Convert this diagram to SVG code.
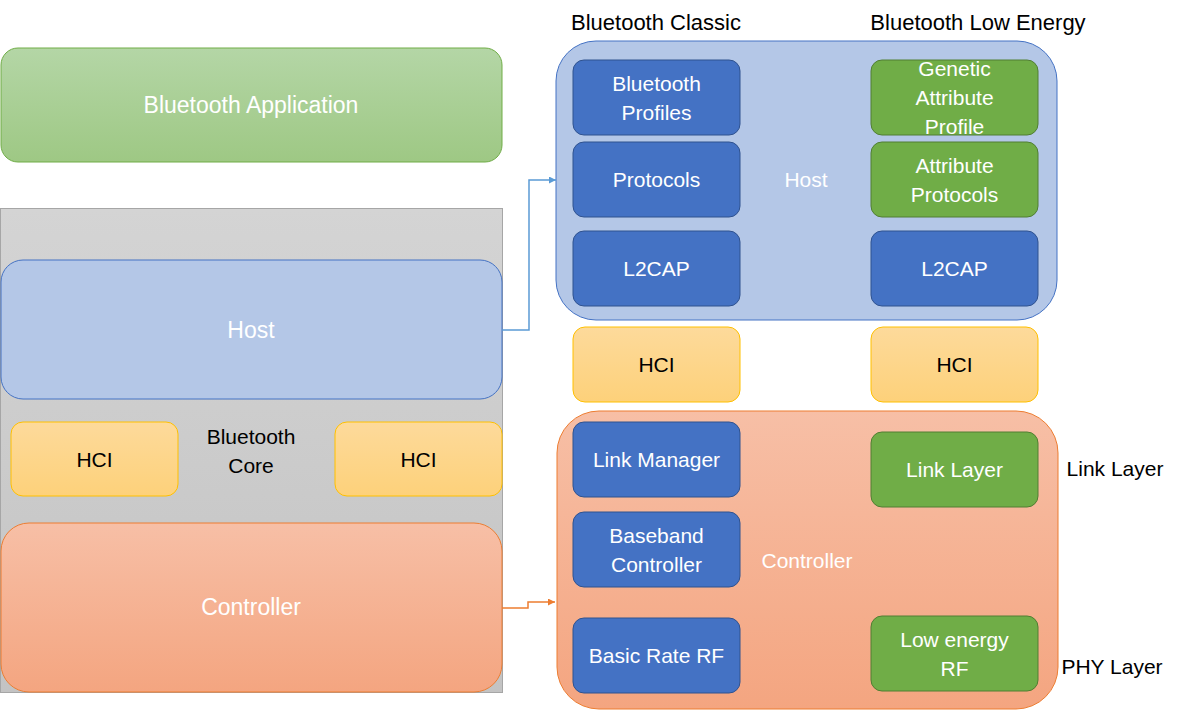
<svg xmlns="http://www.w3.org/2000/svg" width="1179" height="710" viewBox="0 0 1179 710">
<defs>
<linearGradient id="gGreen" x1="0" y1="0" x2="0" y2="1"><stop offset="0" stop-color="#b4d6a6"/><stop offset="1" stop-color="#9ec884"/></linearGradient>
<linearGradient id="gGray" x1="0" y1="0" x2="0" y2="1"><stop offset="0" stop-color="#d4d4d4"/><stop offset="1" stop-color="#c3c3c3"/></linearGradient>
<linearGradient id="gHci" x1="0" y1="0" x2="0" y2="1"><stop offset="0" stop-color="#fdda9b"/><stop offset="1" stop-color="#fdd17a"/></linearGradient>
<linearGradient id="gOrange" x1="0" y1="0" x2="0" y2="1"><stop offset="0" stop-color="#f7bfa6"/><stop offset="1" stop-color="#f4a580"/></linearGradient>
<marker id="aBlue" viewBox="0 0 10 10" refX="10" refY="5" markerWidth="8" markerHeight="7" markerUnits="userSpaceOnUse" orient="auto"><path d="M0,0L10,5L0,10z" fill="#5b9bd5"/></marker>
<marker id="aOrange" viewBox="0 0 10 10" refX="10" refY="5" markerWidth="8" markerHeight="7" markerUnits="userSpaceOnUse" orient="auto"><path d="M0,0L10,5L0,10z" fill="#ed7d31"/></marker>
</defs>
<style>
text{font-family:"Liberation Sans",Arial,sans-serif;font-size:21px;text-anchor:middle}
.w{fill:#ffffff}
.k{fill:#000000}
.big{font-size:23px}
.top{font-size:22px}
.blue{fill:#4472c4;stroke:#2f528f;stroke-width:1}
.green{fill:#70ad47;stroke:#507e32;stroke-width:1}
.hci{fill:url(#gHci);stroke:#ffc000;stroke-width:1}
</style>
<rect width="1179" height="710" fill="#ffffff"/>

<g id="app"><rect x="1" y="48" width="501" height="114" rx="17" fill="url(#gGreen)" stroke="#70ad47"/><text class="w big" x="251" y="113">Bluetooth Application</text></g>

<g id="core"><rect x="0.5" y="208.5" width="502" height="484" fill="url(#gGray)" stroke="#a6a6a6"/><text class="k" x="251" y="444">Bluetooth</text><text class="k" x="251" y="473">Core</text></g>

<g id="hostL"><rect x="1" y="260" width="501" height="139" rx="22" fill="#b4c7e7" stroke="#4472c4"/><text class="w big" x="251" y="338">Host</text></g>
<g id="hciL1"><rect x="11" y="422" width="167" height="74" rx="12" class="hci"/><text class="k" x="94.5" y="467">HCI</text></g>
<g id="hciL2"><rect x="335" y="422" width="167" height="74" rx="12" class="hci"/><text class="k" x="418.5" y="467">HCI</text></g>
<g id="ctrlL"><rect x="1" y="523" width="501" height="169" rx="28" fill="url(#gOrange)" stroke="#ed7d31"/><text class="w big" x="251" y="615">Controller</text></g>

<g id="lblClassic"><text class="k top" x="656" y="30">Bluetooth Classic</text></g>
<g id="lblLE"><text class="k top" x="978" y="30">Bluetooth Low Energy</text></g>

<g id="hostR"><rect x="556" y="41" width="501" height="279" rx="40" fill="#b4c7e7" stroke="#4472c4"/><text class="w" x="806" y="187">Host</text></g>
<g id="profiles"><rect x="573" y="60" width="167" height="75" rx="11" class="blue"/><text class="w" x="656.5" y="91">Bluetooth</text><text class="w" x="656.5" y="120">Profiles</text></g>
<g id="protocols"><rect x="573" y="142" width="167" height="75" rx="11" class="blue"/><text class="w" x="656.5" y="187">Protocols</text></g>
<g id="l2capC"><rect x="573" y="231" width="167" height="75" rx="11" class="blue"/><text class="w" x="656.5" y="276">L2CAP</text></g>
<g id="gatt"><rect x="871" y="60" width="167" height="75" rx="11" class="green"/><text class="w" x="954.5" y="76">Genetic</text><text class="w" x="954.5" y="105">Attribute</text><text class="w" x="954.5" y="134">Profile</text></g>
<g id="att"><rect x="871" y="142" width="167" height="75" rx="11" class="green"/><text class="w" x="954.5" y="173">Attribute</text><text class="w" x="954.5" y="202">Protocols</text></g>
<g id="l2capLE"><rect x="871" y="231" width="167" height="75" rx="11" class="blue"/><text class="w" x="954.5" y="276">L2CAP</text></g>

<g id="hciR1"><rect x="573" y="327" width="167" height="75" rx="12" class="hci"/><text class="k" x="656.5" y="372">HCI</text></g>
<g id="hciR2"><rect x="871" y="327" width="167" height="75" rx="12" class="hci"/><text class="k" x="954.5" y="372">HCI</text></g>

<g id="ctrlR"><rect x="557" y="411" width="501" height="298" rx="42" fill="url(#gOrange)" stroke="#ed7d31"/><text class="w" x="807" y="568">Controller</text></g>
<g id="lm"><rect x="573" y="422" width="167" height="75" rx="11" class="blue"/><text class="w" x="656.5" y="467">Link Manager</text></g>
<g id="bb"><rect x="573" y="512" width="167" height="75" rx="11" class="blue"/><text class="w" x="656.5" y="543">Baseband</text><text class="w" x="656.5" y="572">Controller</text></g>
<g id="brrf"><rect x="573" y="618" width="167" height="75" rx="11" class="blue"/><text class="w" x="656.5" y="663">Basic Rate RF</text></g>
<g id="ll"><rect x="871" y="432" width="167" height="75" rx="11" class="green"/><text class="w" x="954.5" y="477">Link Layer</text></g>
<g id="lerf"><rect x="871" y="616" width="167" height="75" rx="11" class="green"/><text class="w" x="954.5" y="647">Low energy</text><text class="w" x="954.5" y="676">RF</text></g>

<g id="lblLink"><text class="k" x="1115" y="476">Link Layer</text></g>
<g id="lblPhy"><text class="k" x="1112" y="674">PHY Layer</text></g>

<g id="connectors" fill="none" stroke-width="1.5">
<path d="M502,330H529V180H556" stroke="#5b9bd5" marker-end="url(#aBlue)"/>
<path d="M502,608H528V602H555" stroke="#ed7d31" marker-end="url(#aOrange)"/>
</g>
</svg>
